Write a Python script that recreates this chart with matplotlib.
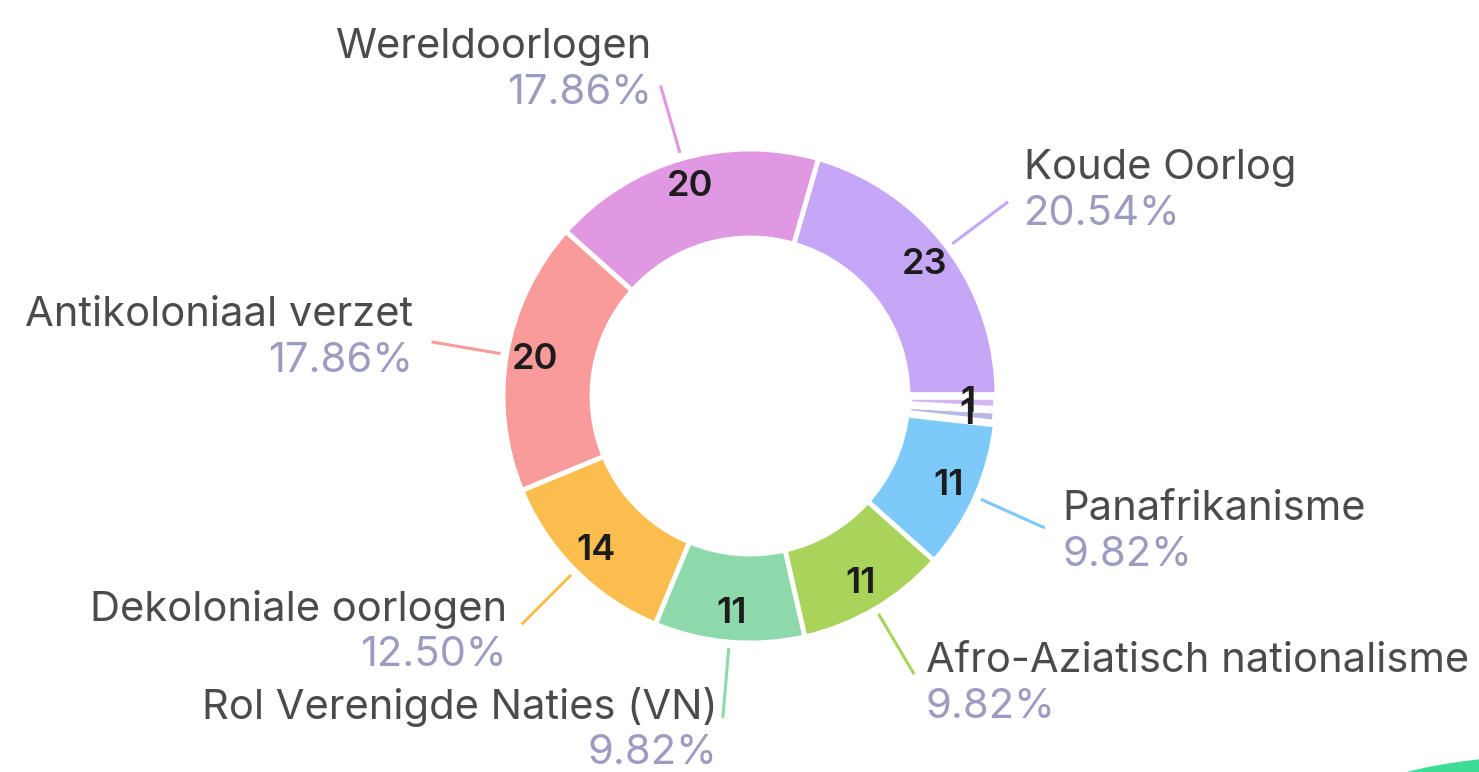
import numpy as np
import matplotlib.pyplot as plt
from matplotlib.patches import Ellipse

plt.rcParams['font.family'] = ['Inter', 'DejaVu Sans']

# ================= data =================
labels = ['Koude Oorlog', 'Wereldoorlogen', 'Antikoloniaal verzet',
          'Dekoloniale oorlogen', 'Rol Verenigde Naties (VN)',
          'Afro-Aziatisch nationalisme', 'Panafrikanisme', '', '']
values = [23, 20, 20, 14, 11, 11, 11, 1, 1]
colors = ['#c5a6f7', '#e198e3', '#f99b9b', '#fbbe4e', '#8ed9ab',
          '#a9d35b', '#7dc9f9', '#b7b9e2', '#d5b6f0']

total = sum(values)
pcts = [v / total * 100 for v in values]

# ================= figure (pixel coordinates, y up) =================
W, H = 1479, 772
fig = plt.figure(figsize=(W / 100, H / 100), dpi=100)
ax = fig.add_axes([0, 0, 1, 1])

cx, cy = 750, H - 396
R, ring = 247, 89

wedges, _ = ax.pie(values, colors=colors, startangle=0, counterclock=True,
                   radius=R, center=(cx, cy),
                   wedgeprops=dict(width=ring, edgecolor='white', linewidth=3.5))
# tiny slices show up as thin lines in the original
for w, v in zip(wedges, values):
    if v / total < 0.02:
        w.set_linewidth(5.5)

ax.set_xlim(0, W)
ax.set_ylim(0, H)
ax.set_aspect('equal')
ax.axis('off')

name_color = '#4b4b4b'
pct_color = '#9c9cc0'

for w, lab, v, p, col in zip(wedges, labels, values, pcts, colors):
    mid = np.deg2rad((w.theta1 + w.theta2) / 2)
    c, s = np.cos(mid), np.sin(mid)
    # number inside ring
    rn = 218
    ax.text(cx + rn * c, cy + rn * s, str(v), ha='center', va='center',
            fontsize=26, fontweight='semibold', color='#1c1c1c')
    if not lab:
        continue
    # leader line
    r0, r1 = R + 6, R + 76
    ax.plot([cx + r0 * c, cx + r1 * c], [cy + r0 * s, cy + r1 * s],
            color=col, linewidth=2.2, solid_capstyle='butt')
    ex, ey = cx + r1 * c, cy + r1 * s
    right = c >= 0
    off = 4 + 15 * abs(c)
    tx = ex + (off if right else -off)
    ty = ey + 2 + 14 * s
    ha = 'left' if right else 'right'
    ax.text(tx, ty + 23, lab, ha=ha, va='center', fontsize=30, color=name_color)
    ax.text(tx, ty - 23, f'{p:.2f}%', ha=ha, va='center', fontsize=30,
            color=pct_color)

# green corner shape
ax.add_patch(Ellipse((1575, H - 805), 440, 100, color='#3ddc97', zorder=0))

fig.savefig('out.png', dpi=100, facecolor='white')
